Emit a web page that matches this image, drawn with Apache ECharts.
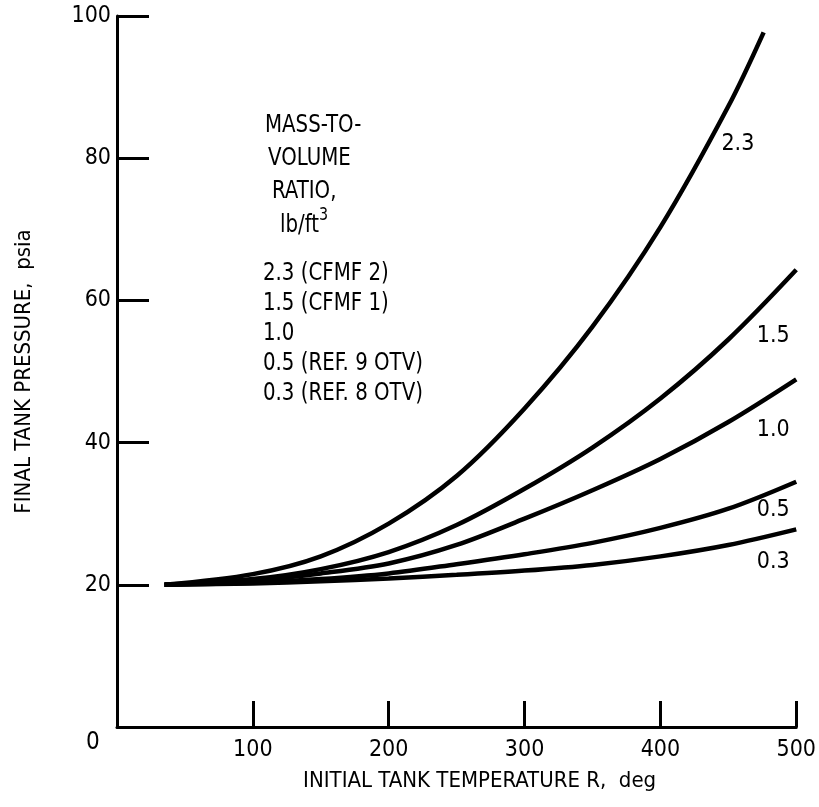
<!DOCTYPE html>
<html>
<head>
<meta charset="utf-8">
<script src="https://cdn.jsdelivr.net/npm/echarts@6/dist/echarts.min.js"></script>
<style>
  html, body { margin: 0; padding: 0; background: #fff; }
  #chart { width: 819px; height: 807px; }
</style>
</head>
<body>
<div id="chart"></div>
<script>
// initial tank temperature, R
var temps = [35, 100, 150, 200, 250, 300, 350, 400, 450, 500];
var temps23 = [35, 100, 150, 200, 250, 300, 350, 400, 450, 476];

// final tank pressure, psia, per mass-to-volume ratio
var p23 = [20, 21.5, 24, 28.6, 35.3, 44.8, 56.3, 70.3, 87.3, 97.7];
var p15 = [20, 20.8, 22.2, 24.6, 28.4, 33.5, 39.3, 46.2, 54.5, 64.3];
var p10 = [20, 20.6, 21.6, 23, 25.6, 29.3, 33.3, 37.7, 42.9, 48.9];
var p05 = [20, 20.3, 20.8, 21.6, 22.9, 24.3, 25.9, 28, 30.7, 34.5];
var p03 = [20, 20.2, 20.5, 20.9, 21.4, 22, 22.8, 24, 25.6, 27.8];

var ratioNames = ['2.3', '1.5', '1.0', '0.5', '0.3'];
var legendLines = ['2.3 (CFMF 2)', '1.5 (CFMF 1)', '1.0', '0.5 (REF. 9 OTV)', '0.3 (REF. 8 OTV)'];

var xTicks = [0, 100, 200, 300, 400, 500];
var yTicks = [0, 20, 40, 60, 80, 100];

var font = "'DejaVu Sans Condensed', 'Liberation Sans Narrow', sans-serif";

function pairs(xs, ys) {
  return xs.map(function (x, i) { return [x, ys[i]]; });
}

// where each curve's ratio label sits (data units)
var labelSpots = [[457, 82], [483, 55], [483, 41.8], [483, 30.5], [483, 23.2]];

var seriesData = [pairs(temps23, p23), pairs(temps, p15), pairs(temps, p10), pairs(temps, p05), pairs(temps, p03)];

var series = seriesData.map(function (d, i) {
  return {
    name: ratioNames[i],
    type: 'line',
    data: d,
    smooth: 0.33,
    symbol: 'none',
    silent: true,
    lineStyle: { color: '#000', width: 4.5 },
    markPoint: {
      symbol: 'circle',
      symbolSize: 0,
      silent: true,
      data: [{ coord: labelSpots[i] }],
      label: {
        show: true,
        position: 'inside',
        formatter: ratioNames[i],
        color: '#000',
        fontFamily: font,
        fontSize: 23
      }
    }
  };
});

// text block in the upper left of the plot
var sx = 0.88;
var graphics = [];
var head = [
  { t: 'MASS-TO-', x: 265, y: 127 },
  { t: 'VOLUME', x: 268, y: 160 },
  { t: 'RATIO,', x: 272, y: 193 }
];
head.forEach(function (h) {
  graphics.push({
    type: 'text', left: h.x, top: h.y - 14, scaleX: sx,
    style: { text: h.t, fill: '#000', font: '25px ' + font }
  });
});
graphics.push({
  type: 'text', left: 280, top: 206, scaleX: sx,
  style: {
    text: '{a|lb/ft}{s|3}',
    rich: {
      a: { fontFamily: font, fontSize: 25, fill: '#000', lineHeight: 32, verticalAlign: 'bottom' },
      s: { fontFamily: font, fontSize: 18, fill: '#000', lineHeight: 32, verticalAlign: 'top' }
    }
  }
});
legendLines.forEach(function (t, i) {
  graphics.push({
    type: 'text', left: 263, top: 261 + i * 30, scaleX: sx,
    style: { text: t, fill: '#000', font: '25px ' + font }
  });
});
graphics.push({
  type: 'text', left: 86, top: 731,
  style: { text: '0', fill: '#000', font: '24px ' + font }
});

var chart = echarts.init(document.getElementById('chart'));
chart.setOption({
  animation: false,
  backgroundColor: '#fff',
  grid: { left: 117, right: 21, top: 16, bottom: 80 },
  xAxis: {
    type: 'value',
    min: xTicks[0],
    max: xTicks[xTicks.length - 1],
    interval: 100,
    name: 'INITIAL TANK TEMPERATURE R,  deg',
    nameLocation: 'middle',
    nameGap: 43,
    nameTextStyle: { color: '#000', fontFamily: font, fontSize: 22, padding: [0, 0, 0, 46] },
    axisLine: { show: true, lineStyle: { color: '#000', width: 3 } },
    axisTick: { show: true, inside: true, length: 26, lineStyle: { color: '#000', width: 3 } },
    axisLabel: { showMinLabel: false, color: '#000', fontFamily: font, fontSize: 23, margin: 12 },
    splitLine: { show: false }
  },
  yAxis: {
    type: 'value',
    min: yTicks[0],
    max: yTicks[yTicks.length - 1],
    interval: 20,
    name: 'FINAL TANK PRESSURE,  psia',
    nameLocation: 'middle',
    nameGap: 82,
    nameTextStyle: { color: '#000', fontFamily: font, fontSize: 22 },
    axisLine: { show: true, lineStyle: { color: '#000', width: 3 } },
    axisTick: { show: true, inside: true, length: 32, lineStyle: { color: '#000', width: 3 } },
    axisLabel: { showMinLabel: false, color: '#000', fontFamily: font, fontSize: 23, margin: 6 },
    splitLine: { show: false }
  },
  graphic: graphics,
  series: series
});
</script>
</body>
</html>
